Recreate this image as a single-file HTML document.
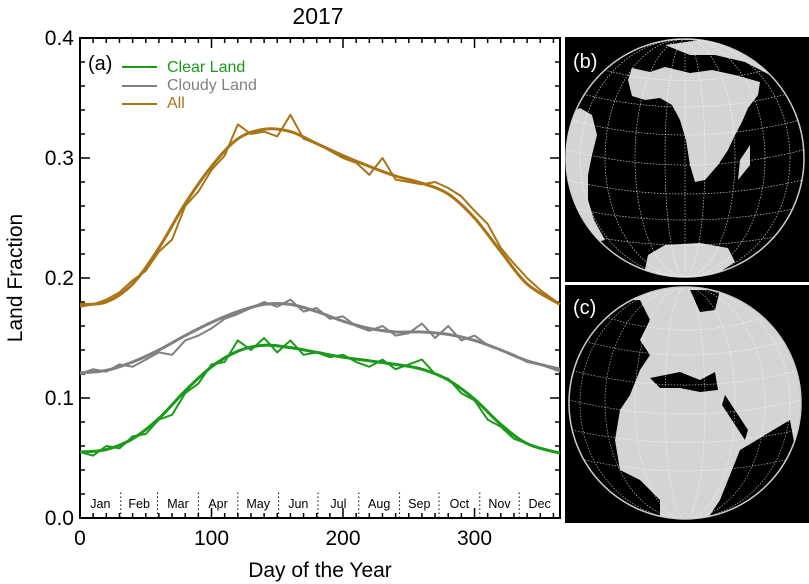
<!DOCTYPE html>
<html><head><meta charset="utf-8"><style>
body{margin:0;background:#fff;font-family:"Liberation Sans",sans-serif}
svg{display:block}
</style></head><body>
<svg width="809" height="584" viewBox="0 0 809 584">
<text x="318" y="24" font-size="23" text-anchor="middle">2017</text>
<text transform="translate(22,278) rotate(-90)" font-size="21" text-anchor="middle">Land Fraction</text>
<text x="320" y="577" font-size="21" text-anchor="middle">Day of the Year</text>
<g id="axes"></g>
<g id="series"></g>
<text x="88" y="70" font-size="20">(a)</text>
<g>
<line x1="122" y1="67" x2="157" y2="67" stroke="#1a9a1a" stroke-width="2"/>
<text x="167" y="72" font-size="16" fill="#1a9a1a">Clear Land</text>
<line x1="122" y1="86" x2="157" y2="86" stroke="#808080" stroke-width="2"/>
<text x="167" y="90" font-size="16" fill="#808080">Cloudy Land</text>
<line x1="122" y1="104" x2="157" y2="104" stroke="#a87416" stroke-width="2"/>
<text x="167" y="108" font-size="16" fill="#a87416">All</text>
</g>
<!-- panel b -->
<g>
<rect x="565" y="37" width="244" height="245" fill="#000"/>
<clipPath id="cb"><circle cx="685" cy="158" r="119"/></clipPath>
<circle cx="685" cy="158" r="119" fill="#000" stroke="#ccc" stroke-width="1.5"/>
<g clip-path="url(#cb)" fill="#d4d4d4">
<path d="M628,80 L632,68 L650,72 L665,67 L690,73 L712,70 L735,75 L760,82 L758,95 L748,108 L742,122 L735,135 L728,150 L718,165 L705,180 L695,182 L690,165 L686,140 L680,120 L672,105 L660,98 L645,100 L632,96Z"/>
<path d="M740,160 L750,145 L750,165 L738,180Z"/>
<path d="M566,115 L580,108 L592,115 L597,135 L592,155 L588,175 L588,200 L594,220 L605,240 L585,245 L566,230Z"/>
<path d="M648,255 L665,245 L700,243 L728,248 L735,262 L715,275 L660,280 L645,270Z"/>
<path d="M665,45 L700,40 L740,45 L765,60 L770,75 L745,62 L715,55 L690,55Z"/>
</g>
<g clip-path="url(#cb)" fill="none" stroke="#fff" stroke-width="0.7" stroke-dasharray="1.5,1.5" opacity="0.8">
<ellipse cx="685" cy="158" rx="20" ry="119"/><ellipse cx="685" cy="158" rx="50" ry="119"/><ellipse cx="685" cy="158" rx="80" ry="119"/><ellipse cx="685" cy="158" rx="105" ry="119"/>
<line x1="685" y1="39" x2="685" y2="277"/>
<path d="M570,120 Q685,150 800,120"/><path d="M567,150 Q685,180 803,150"/><path d="M568,180 Q685,208 802,180"/><path d="M572,208 Q685,232 798,208"/><path d="M585,235 Q685,255 785,235"/><path d="M575,92 Q685,122 795,92"/><path d="M590,66 Q685,95 780,66"/>
</g>
<text x="573" y="68" font-size="20" fill="#fff">(b)</text>
</g>
<!-- panel c -->
<g>
<rect x="565" y="285" width="244" height="238" fill="#000"/>
<clipPath id="cc"><circle cx="685" cy="403" r="116"/></clipPath>
<circle cx="685" cy="403" r="116" fill="#d4d4d4"/>
<g clip-path="url(#cc)" fill="#000">
<path d="M560,300 L640,300 L650,320 L640,340 L650,355 L640,370 L630,395 L620,410 L615,440 L620,470 L640,480 L660,500 L660,530 L560,530Z"/>
<path d="M740,450 L790,420 L810,530 L700,530 L720,500Z"/>
<path d="M650,378 L680,372 L700,380 L715,372 L718,390 L700,392 L680,388 L660,388Z"/>
<path d="M725,395 L748,430 L745,440 L722,405Z"/>
<path d="M690,290 L720,290 L715,310 L700,312Z"/>
</g>
<g clip-path="url(#cc)" fill="none" stroke="#fff" stroke-width="0.7" stroke-dasharray="1.5,1.5" opacity="0.7">
<ellipse cx="685" cy="403" rx="20" ry="116"/><ellipse cx="685" cy="403" rx="50" ry="116"/><ellipse cx="685" cy="403" rx="80" ry="116"/><ellipse cx="685" cy="403" rx="105" ry="116"/>
<path d="M580,340 Q685,370 790,340"/><path d="M570,370 Q685,400 800,370"/><path d="M569,400 Q685,428 801,400"/><path d="M572,430 Q685,455 798,430"/><path d="M585,460 Q685,482 785,460"/><path d="M600,315 Q685,345 770,315"/>
</g>
<circle cx="685" cy="403" r="116" fill="none" stroke="#ccc" stroke-width="1.5"/>
<text x="573" y="314" font-size="20" fill="#fff">(c)</text>
</g>
</svg>
<script>
const smoothDays=[0,20,40,60,80,100,120,140,160,180,200,220,240,260,280,300,320,340,365];
const allSmooth=[0.178,0.180,0.195,0.225,0.262,0.293,0.316,0.324,0.322,0.312,0.302,0.293,0.285,0.279,0.270,0.250,0.222,0.195,0.178];
const cloudySmooth=[0.121,0.123,0.130,0.140,0.152,0.163,0.172,0.178,0.178,0.172,0.164,0.158,0.155,0.155,0.153,0.148,0.140,0.131,0.124];
const clearSmooth=[0.055,0.057,0.066,0.083,0.106,0.126,0.139,0.144,0.142,0.138,0.134,0.131,0.128,0.124,0.115,0.099,0.078,0.062,0.054];
const noisyDays=[0,10,20,30,40,50,60,70,80,90,100,110,120,130,140,150,160,170,180,190,200,210,220,230,240,250,260,270,280,290,300,310,320,330,340,350,360,365];
const allNoisy=[0.176,0.178,0.182,0.188,0.198,0.206,0.222,0.232,0.260,0.272,0.290,0.302,0.328,0.320,0.322,0.318,0.336,0.316,0.312,0.306,0.300,0.296,0.286,0.300,0.282,0.280,0.278,0.280,0.275,0.268,0.256,0.245,0.225,0.212,0.200,0.190,0.182,0.178];
const cloudyNoisy=[0.120,0.124,0.122,0.128,0.126,0.132,0.138,0.136,0.148,0.152,0.158,0.166,0.170,0.175,0.180,0.176,0.182,0.172,0.175,0.166,0.168,0.160,0.156,0.160,0.152,0.154,0.162,0.150,0.160,0.148,0.152,0.144,0.140,0.136,0.130,0.128,0.124,0.122];
const clearNoisy=[0.055,0.052,0.060,0.058,0.068,0.070,0.082,0.086,0.104,0.112,0.128,0.130,0.148,0.140,0.150,0.138,0.148,0.136,0.138,0.134,0.136,0.130,0.126,0.132,0.124,0.128,0.132,0.120,0.116,0.104,0.098,0.082,0.076,0.066,0.062,0.058,0.055,0.054];
const yTicks=[0.0,0.1,0.2,0.3,0.4];
const xTicks=[0,100,200,300];
const months=["Jan","Feb","Mar","Apr","May","Jun","Jul","Aug","Sep","Oct","Nov","Dec"];
const monthStarts=[0,31,59,90,120,151,181,212,243,273,304,334,365];

const X0=80,X1=560,Y0=518,Y1=38;
const xs=d=>X0+(X1-X0)*d/365;
const ys=v=>Y0-(Y0-Y1)*v/0.4;
const NS="http://www.w3.org/2000/svg";
const ax=document.getElementById('axes'),sr=document.getElementById('series');
function mk(tag,at,parent){const e=document.createElementNS(NS,tag);for(const k in at)e.setAttribute(k,at[k]);parent.appendChild(e);return e;}

const frame=mk('rect',{x:X0,y:Y1,width:X1-X0,height:Y0-Y1,fill:'none',stroke:'#000','stroke-width':2},ax);


for(let d=0;d<=365;d+=10){const big=d%100===0;const L=big?10:5;
 mk('line',{x1:xs(d),x2:xs(d),y1:Y0,y2:Y0-L,stroke:'#000','stroke-width':1.5},ax);
 mk('line',{x1:xs(d),x2:xs(d),y1:Y1,y2:Y1+L,stroke:'#000','stroke-width':1.5},ax);}
for(let i=0;i<=20;i++){const v=i*0.02;const L=(i%5===0)?10:5;
 mk('line',{x1:X0,x2:X0+L,y1:ys(v),y2:ys(v),stroke:'#000','stroke-width':1.5},ax);
 mk('line',{x1:X1,x2:X1-L,y1:ys(v),y2:ys(v),stroke:'#000','stroke-width':1.5},ax);}
yTicks.forEach(v=>{const t=mk('text',{x:X0-6,y:ys(v)+7,'font-size':21,'text-anchor':'end'},ax);t.textContent=v.toFixed(1);
 
 });
xTicks.forEach(d=>{const t=mk('text',{x:xs(d),y:Y0+27,'font-size':21,'text-anchor':'middle'},ax);t.textContent=d;
 
 });
months.forEach((m,i)=>{const t=mk('text',{x:(xs(monthStarts[i])+xs(monthStarts[i+1]))/2,y:Y0-10,'font-size':12.5,'text-anchor':'middle'},ax);t.textContent=m;
 
 
 if(i>0)mk('line',{x1:xs(monthStarts[i]),x2:xs(monthStarts[i]),y1:Y0,y2:Y0-26,stroke:'#000','stroke-width':1,'stroke-dasharray':'1.5,2.5'},ax);});

function smoothPath(days,vals){const p=days.map((d,i)=>[xs(d),ys(vals[i])]);let s=`M${p[0][0]},${p[0][1]}`;
 for(let i=0;i<p.length-1;i++){const a=p[i-1]||p[i],b=p[i],c=p[i+1],e=p[i+2]||c;
  s+=` C${b[0]+(c[0]-a[0])/6},${b[1]+(c[1]-a[1])/6} ${c[0]-(e[0]-b[0])/6},${c[1]-(e[1]-b[1])/6} ${c[0]},${c[1]}`;}return s;}
function line(days,vals,col,w,name,smooth){const d=smooth?smoothPath(days,vals):'M'+days.map((x,i)=>xs(x)+','+ys(vals[i])).join(' L');
 const e=mk('path',{d:d,fill:'none',stroke:col,'stroke-width':w,'stroke-linejoin':'round'},sr);
 
 }
line(noisyDays,allNoisy,'#a87416',2,'all-daily-line',false);
line(smoothDays,allSmooth,'#a87416',3,'all-smooth-line',true);
line(noisyDays,cloudyNoisy,'#808080',2,'cloudy-land-daily-line',false);
line(smoothDays,cloudySmooth,'#808080',3,'cloudy-land-smooth-line',true);
line(noisyDays,clearNoisy,'#1a9a1a',2,'clear-land-daily-line',false);
line(smoothDays,clearSmooth,'#1a9a1a',3,'clear-land-smooth-line',true);
</script>
</body></html>
